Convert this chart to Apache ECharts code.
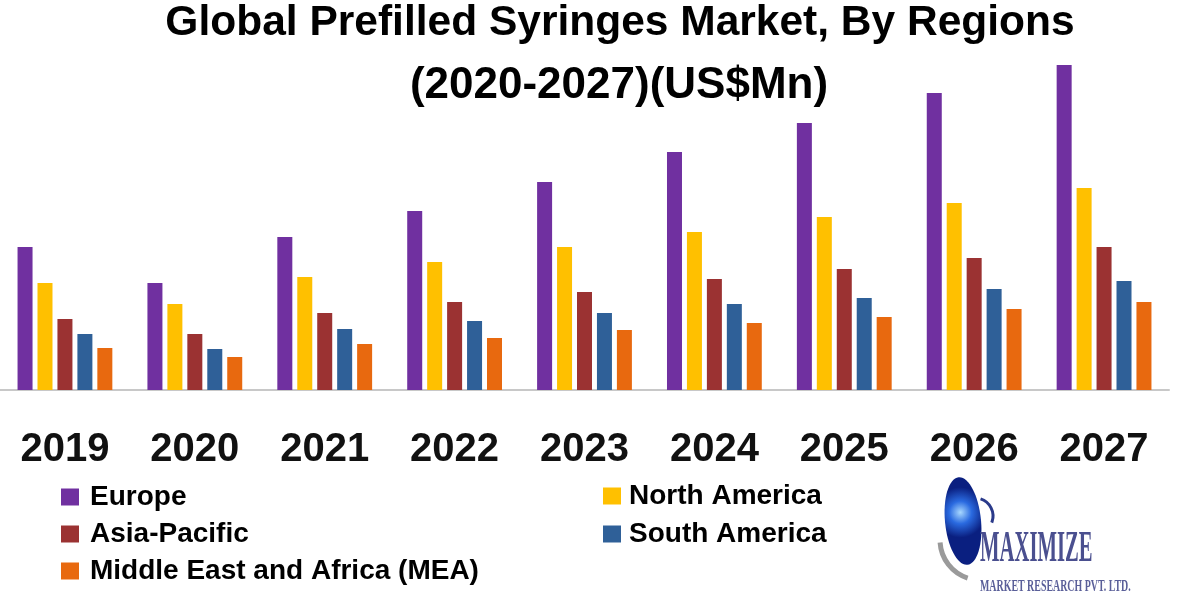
<!DOCTYPE html>
<html>
<head>
<meta charset="utf-8">
<script src="https://cdn.jsdelivr.net/npm/echarts@6/dist/echarts.min.js"></script>
<style>html,body{margin:0;padding:0;background:#fff;}#main{width:1200px;height:600px;}</style>
</head>
<body>
<div id="main"></div>
<script>
// Categories (years)
const years = ['2019','2020','2021','2022','2023','2024','2025','2026','2027'];
// Series values (estimated, US$Mn, relative units)
const europe       = [143, 107, 153, 179, 208, 238, 267, 297, 325];
const northAmerica = [107,  86, 113, 128, 143, 158, 173, 187, 202];
const asiaPacific  = [ 71,  56,  77,  88,  98, 111, 121, 132, 143];
const southAmerica = [ 56,  41,  61,  69,  77,  86,  92, 101, 109];
const mea          = [ 42,  33,  46,  52,  60,  67,  73,  81,  88];

const seriesNames = ['Europe','North America','Asia-Pacific','South America','Middle East and Africa (MEA)'];
const seriesData = [europe, northAmerica, asiaPacific, southAmerica, mea];
const colors = ['#7030A0','#FFC000','#9B3232','#2F6098','#E8690F'];

const chart = echarts.init(document.getElementById('main'));
const font = 'Liberation Sans, Arial, sans-serif';
const legendTextL = { fontFamily: font, fontWeight: 'bold', fontSize: 28, lineHeight: 28, color: '#000', padding: [0,0,0,6] };
const legendTextR = { fontFamily: font, fontWeight: 'bold', fontSize: 28, lineHeight: 28, color: '#000', padding: [0,0,0,3] };

chart.setOption({
  backgroundColor: '#ffffff',
  animation: false,
  color: colors,
  title: [
    { text: 'Global Prefilled Syringes Market, By Regions', left: 615, top: -5, textAlign: 'center',
      textStyle: { fontFamily: font, fontWeight: 'bold', fontSize: 42.5, lineHeight: 47, color: '#000' } },
    { text: '(2020-2027)(US$Mn)', left: 614, top: 57, textAlign: 'center',
      textStyle: { fontFamily: font, fontWeight: 'bold', fontSize: 44, lineHeight: 48, color: '#000' } }
  ],
  legend: [
    { orient: 'vertical', left: 61, top: 483, padding: 0, itemWidth: 18, itemHeight: 17, itemGap: 9,
      icon: 'rect', data: ['Europe','Asia-Pacific','Middle East and Africa (MEA)'], textStyle: legendTextL },
    { orient: 'vertical', left: 603, top: 482, padding: 0, itemWidth: 18, itemHeight: 17, itemGap: 10,
      icon: 'rect', data: ['North America','South America'], textStyle: legendTextR }
  ],
  grid: { left: -3, right: 31, top: 40, bottom: 210, containLabel: false },
  xAxis: {
    type: 'category',
    data: years,
    axisLine: { show: true, lineStyle: { color: '#C8C8C8', width: 2 } },
    axisTick: { show: false },
    axisLabel: { margin: 40, fontFamily: font, fontWeight: 'bold', fontSize: 40, color: '#111' }
  },
  yAxis: {
    type: 'value', min: 0, max: 350,
    show: false, splitLine: { show: false }
  },
  series: seriesNames.map((n, i) => ({
    name: n, type: 'bar', data: seriesData[i], barWidth: 15, barGap: '33%',
    itemStyle: { color: colors[i] }
  })),
  graphic: [
    { type: 'arc', shape: { cx: 980, cy: 540, r: 40, startAngle: Math.PI*0.6, endAngle: Math.PI*0.98 },
      style: { stroke: '#9a9a9a', lineWidth: 5, fill: null } },
    { type: 'arc', shape: { cx: 975, cy: 516, r: 18, startAngle: -Math.PI*0.4, endAngle: Math.PI*0.12 },
      style: { stroke: '#2a3a8a', lineWidth: 3, fill: null } },
    { type: 'ellipse', shape: { cx: 963, cy: 521, rx: 18, ry: 44 }, rotation: 0.1, originX: 963, originY: 521,
      style: { fill: { type: 'radial', x: 0.45, y: 0.4, r: 0.7,
        colorStops: [{offset:0,color:'#a8d8ff'},{offset:0.45,color:'#2a6ae0'},{offset:1,color:'#0a1f80'}] } } },
    { type: 'text', x: 980, y: 572, scaleX: 0.47,
      style: { text: 'MAXIMIZE', fontFamily: 'Liberation Serif, serif', fontWeight: 'bold', fontSize: 44, fill: '#4a4f8f',
        textVerticalAlign: 'bottom', verticalAlign: 'bottom' } },
    { type: 'text', x: 980, y: 595, scaleX: 0.62,
      style: { text: 'MARKET RESEARCH PVT. LTD.', fontFamily: 'Liberation Serif, serif', fontWeight: 'bold', fontSize: 16, fill: '#5a5f99',
        textVerticalAlign: 'bottom', verticalAlign: 'bottom' } }
  ]
});
</script>
</body>
</html>
